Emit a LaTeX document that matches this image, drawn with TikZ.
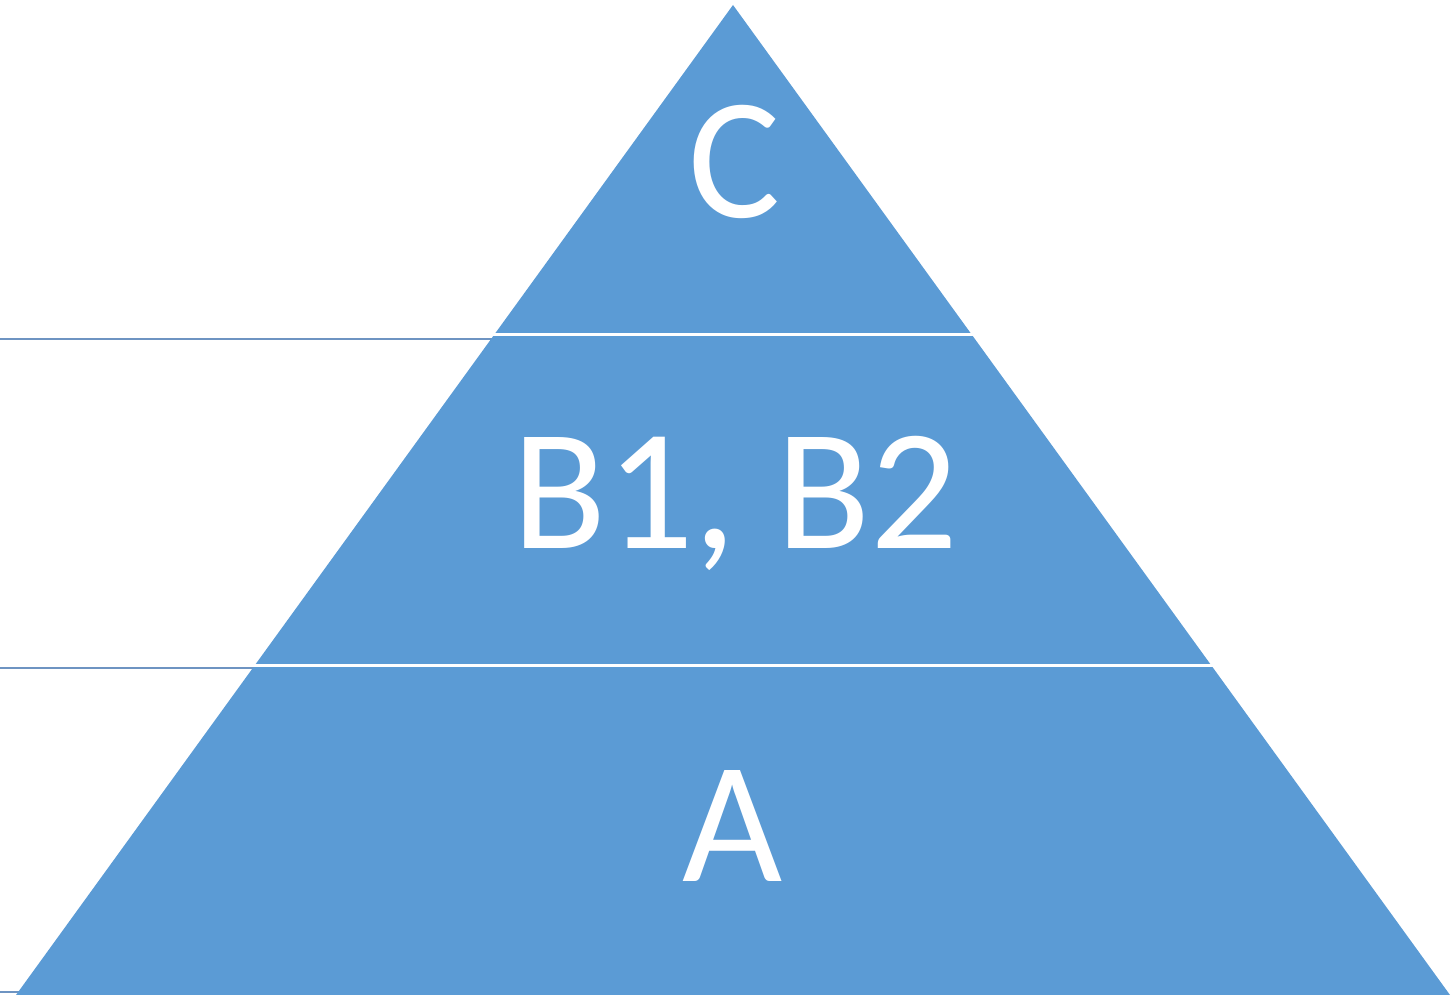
\documentclass[tikz,border=0pt]{standalone}
\usepackage{fontspec}
\setmainfont{Carlito}
\usepackage{xcolor}
\definecolor{pyrblue}{HTML}{5B9BD5}
\definecolor{rulegray}{HTML}{6E94C2}

\begin{document}
\begin{tikzpicture}[x=1pt,y=-1pt,
  layer/.style={text=white,anchor=base,inner sep=0pt,font=\fontsize{173}{200}\selectfont}]
\useasboundingbox (0,0) rectangle (1454,995);
% guide lines on the left
\draw[rulegray,line width=2pt] (0,339) -- (500,339);
\draw[rulegray,line width=2pt] (0,668) -- (260,668);
\draw[rulegray,line width=2pt] (0,992) -- (20,992);
% pyramid
\coordinate (apex) at (733,5);
\coordinate (bl) at (16,995);
\coordinate (br) at (1450,995);
\fill[pyrblue] (apex) -- (br) -- (bl) -- cycle;
% gaps between the layers
\draw[white,line width=3pt] (400,334) -- (1100,334);
\draw[white,line width=3pt] (200,665.5) -- (1300,665.5);
% labels
\node[layer] (c) at (735,218) {C};
\node[layer] (b) at (735,548) {B1, B2};
\node[layer] (a) at (733,881) {A};
\end{tikzpicture}
\end{document}
